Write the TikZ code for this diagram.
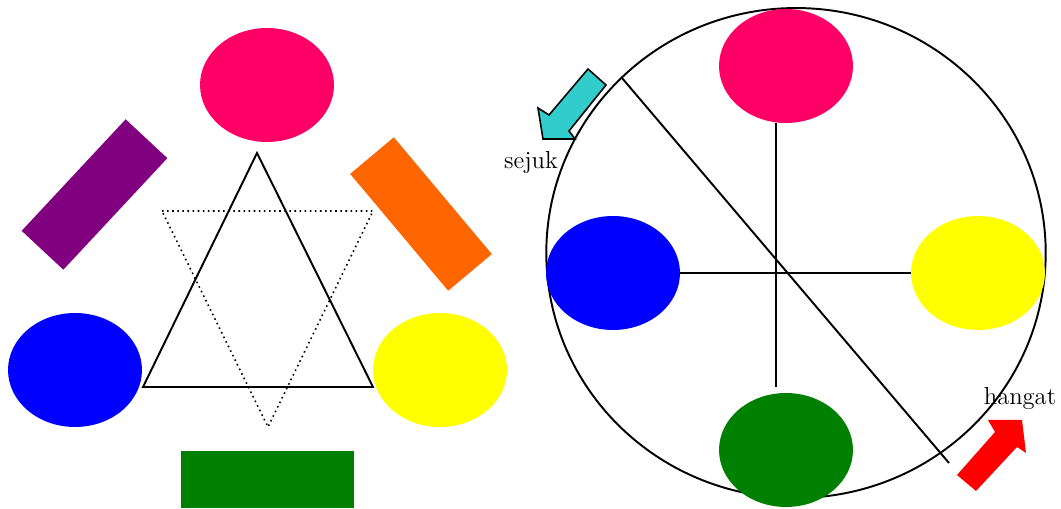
\documentclass[tikz,border=0pt]{standalone}
\usetikzlibrary{shapes.geometric}
\definecolor{rose}{HTML}{FF0066}
\definecolor{plum}{HTML}{800080}
\definecolor{tangerine}{HTML}{FF6600}
\definecolor{leaf}{HTML}{008000}
\definecolor{aqua}{HTML}{33CCCC}
\definecolor{lemon}{HTML}{FFFF00}
\definecolor{royal}{HTML}{0000FF}
\begin{document}
\begin{tikzpicture}[x=0.02cm,y=-0.02cm,
  blob/.style={ellipse,inner sep=0pt,outer sep=0pt,minimum width=2.68cm,minimum height=2.28cm},
  bar/.style={rectangle,inner sep=0pt,outer sep=0pt,minimum width=3.05cm,minimum height=1.14cm},
  line/.style={line width=1.1pt},
  lbl/.style={font=\fontsize{14}{16}\selectfont,inner sep=0pt}]
  \useasboundingbox (0,0) rectangle (1061,509);
  \node[blob,fill=rose] (roseL) at (267,85) {};
  \node[blob,fill=royal] (blueL) at (75,370) {};
  \node[blob,fill=lemon] (yellowL) at (440,370) {};
  \node[bar,fill=plum,rotate=47] (plumL) at (94.5,194.5) {};
  \node[bar,fill=tangerine,rotate=-50] (orangeL) at (421,214) {};
  \node[bar,fill=leaf,minimum width=3.46cm] (greenL) at (267.5,479.5) {};
  \draw[line] (257,153) -- (143,387) -- (373,387) -- cycle;
  \draw[dotted,line width=0.9pt] (162,211) -- (373,211) -- (268,427) -- cycle;
  \node[ellipse,draw,line,inner sep=0pt,minimum width=9.99cm,minimum height=9.8cm] (wheel) at (796,253) {};
  \node[blob,fill=rose] (roseR) at (786,66) {};
  \node[blob,fill=royal] (blueR) at (613,273) {};
  \node[blob,fill=lemon] (yellowR) at (978,273) {};
  \node[blob,fill=leaf] (greenR) at (786,450) {};
  \draw[line,shorten >=0.12cm] ([xshift=-0.2cm]roseR.south) -- ([xshift=-0.2cm]greenR.north);
  \draw[line] (blueR.east) -- (yellowR.west);
  \coordinate (cold) at (622,78);
  \coordinate (warm) at (949,463);
  \draw[line] (cold) -- (warm);
  \filldraw[fill=aqua,line width=0.9pt,line join=miter] (588,69) -- (606,85) -- (569,131) -- (575,139)
    -- (543,139) -- (538,108) -- (549,115) -- cycle;
  \fill[red] (957,475) -- (995,432) -- (988,420) -- (1022,420) -- (1026,453) -- (1017,447) -- (976,491) -- cycle;
  \node[lbl] (sejuk) at (531,162) {sejuk};
  \node[lbl] (hangat) at (1020,398) {hangat};
\end{tikzpicture}
\end{document}
